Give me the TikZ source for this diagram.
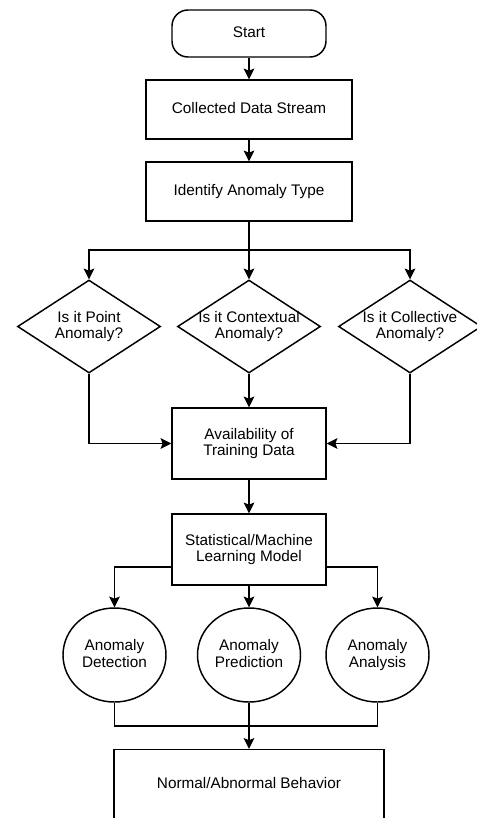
\documentclass[tikz,border=0pt]{standalone}
\usepackage{fontspec}
\setmainfont{Liberation Sans}
\usetikzlibrary{shapes.geometric,arrows.meta}

\newcommand{\capstrut}{\rule[-2.5pt]{0pt}{10.7pt}}

\begin{document}
\begin{tikzpicture}[x=0.75pt, y=-0.75pt,
	every node/.style={font=\fontsize{11.5}{12.3}\selectfont, align=center,
		execute at begin node=\capstrut, execute at end node=\capstrut},
	line/.style={line width=1.1pt},
	flow/.style={line, -{Stealth[length=8pt, width=8pt, inset=1.5pt]}},
	startbox/.style={line, draw, rounded corners=12pt, minimum width=115.5pt, minimum height=35.25pt},
	procbox/.style={line, draw, minimum width=#1, minimum height=44.25pt},
	tallbox/.style={line, draw, minimum width=#1, minimum height=53.25pt},
	decision/.style={line, draw, diamond, inner sep=0pt, minimum width=107.25pt, minimum height=69.75pt},
	outcome/.style={line, draw, ellipse, inner sep=0pt, minimum width=77.25pt, minimum height=70.5pt}]
	\useasboundingbox (0,0) rectangle (477,818);

	\node[startbox] (start) at (249, 33.5) {Start};
	\node[procbox=154.5pt] (collect) at (249, 109.5) {Collected Data Stream};
	\node[procbox=154.5pt] (identify) at (249, 191.5) {Identify Anomaly Type};

	\node[decision, label={[align=center]center:Is it Point\\Anomaly?}] (point) at (89, 326.5) {};
	\node[decision, label={[align=center]center:Is it Contextual\\Anomaly?}] (context) at (249, 326.5) {};
	\node[decision, label={[align=center]center:Is it Collective\\Anomaly?}] (collective) at (410, 326.5) {};

	\node[tallbox=115.5pt] (avail) at (249, 443.5) {Availability of\\Training Data};
	\node[tallbox=115.5pt] (model) at (249, 549.5) {Statistical/Machine\\Learning Model};

	\node[outcome] (detect) at (114.5, 655) {Anomaly\\Detection};
	\node[outcome] (predict) at (249, 655) {Anomaly\\Prediction};
	\node[outcome] (analyse) at (377.5, 655) {Anomaly\\Analysis};

	\node[tallbox=202.5pt] (behave) at (249, 785) {Normal/Abnormal Behavior};

	\coordinate (split) at (249, 250);
	\coordinate (merge) at (249, 726);

	\draw[flow] (start) -- (collect);
	\draw[flow] (collect) -- (identify);
	\draw[line] (identify) -- (split);
	\draw[flow] (split) -| (point);
	\draw[flow] (split) -- (context);
	\draw[flow] (split) -| (collective);

	\draw[flow] (point) |- (avail);
	\draw[flow] (context) -- (avail);
	\draw[flow] (collective) |- (avail);
	\draw[flow] (avail) -- (model);

	\draw[flow] ([yshift=-13.1pt]model.west) -| (detect);
	\draw[flow] (model) -- (predict);
	\draw[flow] ([yshift=-13.1pt]model.east) -| (analyse);

	\draw[line] (detect) |- (merge) -| (analyse);
	\draw[flow] (predict) -- (behave);
\end{tikzpicture}
\end{document}
